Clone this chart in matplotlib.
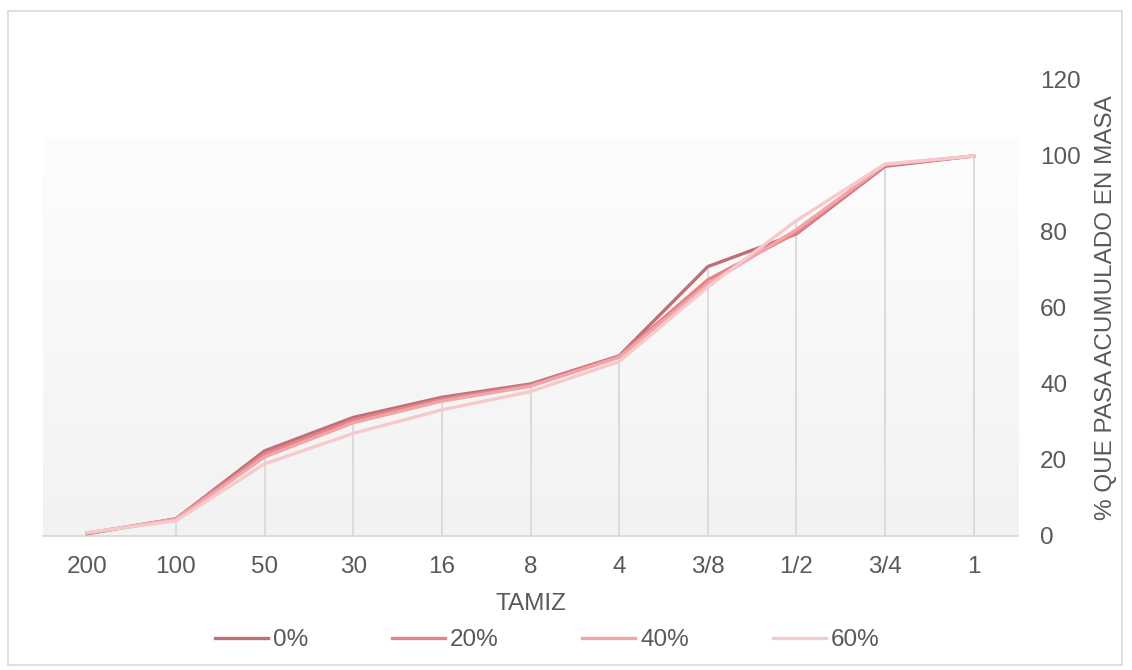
import numpy as np
import matplotlib.pyplot as plt
from matplotlib.colors import LinearSegmentedColormap
from matplotlib.patches import Rectangle

# Sieve sizes (x categories) and cumulative % passing for each replacement level
tamiz = ['200', '100', '50', '30', '16', '8', '4', '3/8', '1/2', '3/4', '1']
p0 = [0.6, 4.5, 22.4, 31.2, 36.5, 40.0, 47.4, 70.9, 79.5, 97.3, 100]
p20 = [0.7, 4.5, 21.6, 30.5, 36.0, 39.7, 47.3, 67.4, 79.8, 97.6, 100]
p40 = [0.8, 4.4, 20.8, 29.8, 35.5, 39.4, 47.0, 66.3, 80.6, 97.7, 100]
p60 = [0.9, 4.0, 19.0, 27.0, 33.2, 38.0, 45.9, 65.5, 83.0, 97.9, 100]
series = ['0%', '20%', '40%', '60%']
colors = ['#bf6f78', '#e4838a', '#f0a6a9', '#f6cacc']

plt.rcParams['font.family'] = ['Liberation Sans', 'DejaVu Sans']
txt = '#595959'
fs = 17.5

fig = plt.figure(figsize=(11.32, 6.7), dpi=100)
ax = fig.add_axes([43/1132, 1-536/670, 975/1132, 456/670])

x = np.arange(len(tamiz))

# gradient background of plot area
grad = np.linspace(0, 1, 256).reshape(-1, 1)
cmap = LinearSegmentedColormap.from_list('g', ['#f2f2f2', '#fdfdfd'])
ax.imshow(grad, extent=(-0.5, 10.5, 0, 104.5), origin='lower', aspect='auto',
          cmap=cmap, zorder=0)

# drop lines
top = np.max([p0, p20, p40, p60], axis=0)
ax.vlines(x[1:], 0, top[1:], color='#d9d9d9', lw=1.3, zorder=1)

for vals, lab, c in zip([p0, p20, p40, p60], series, colors):
    ax.plot(x, vals, color=c, lw=2.4, label=lab, zorder=3)

ax.set_xlim(-0.5, 10.5)
ax.set_ylim(0, 120)
ax.set_yticks(range(0, 121, 20))
ax.set_xticks(x)
ax.set_xticklabels(tamiz)
ax.yaxis.tick_right()
ax.yaxis.set_label_position('right')
ax.tick_params(axis='both', length=0, labelsize=fs, labelcolor=txt)
ax.tick_params(axis='x', pad=14.5)
ax.tick_params(axis='y', pad=16)
for s in ['top', 'right', 'left']:
    ax.spines[s].set_visible(False)
ax.spines['bottom'].set_color('#d9d9d9')
ax.spines['bottom'].set_linewidth(1.3)
ax.set_facecolor('none')

ax.set_xlabel('TAMIZ', fontsize=fs, color=txt, labelpad=11)
ax.set_ylabel('% QUE PASA ACUMULADO EN MASA', fontsize=fs, color=txt, labelpad=10)

leg = fig.legend(loc='center', bbox_to_anchor=(547/1132, 1-640/670), ncol=4,
                 frameon=False, fontsize=fs, handlelength=2.18, handletextpad=0.2,
                 columnspacing=3.45)
for t in leg.get_texts():
    t.set_color(txt)

# outer chart border
fig.patches.append(Rectangle((8/1132, 1-665/670), 1114/1132, 654/670,
                             transform=fig.transFigure, fill=False,
                             edgecolor='#d9d9d9', lw=1.2))

fig.savefig('out.png', dpi=100)
